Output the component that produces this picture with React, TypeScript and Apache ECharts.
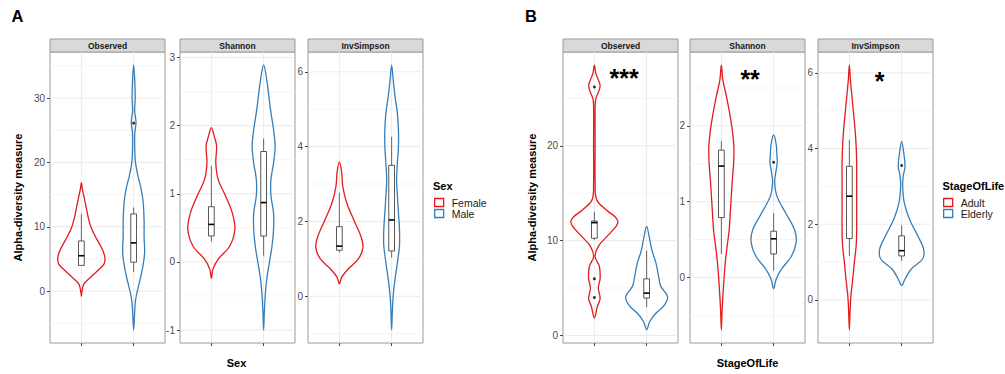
import React, { useEffect, useRef } from 'react';
import * as echarts from 'echarts';

// ---------------- DATA ----------------
const facetNames = ['Observed', 'Shannon', 'InvSimpson'];
const sexGroups = ['Female', 'Male'];
const stageGroups = ['Adult', 'Elderly'];
const groupPositions = [1, 2];

const yRangeA = [[-8.06, 37.16], [-1.19, 3.08], [-1.25, 6.53]];
const yRangeB = [[-0.8, 29.9], [-0.865, 2.975], [-1.14, 6.55]];
const yMajorA = [[0, 10, 20, 30], [-1, 0, 1, 2, 3], [0, 2, 4, 6]];
const yMinorA = [[-5, 5, 15, 25, 35], [-0.5, 0.5, 1.5, 2.5], [-1, 1, 3, 5]];
const yMajorB = [[0, 10, 20], [0, 1, 2], [0, 2, 4, 6]];
const yMinorB = [[5, 15, 25], [-0.5, 0.5, 1.5, 2.5], [-1, 1, 3, 5]];

// violin outlines: [value, half-width in category units]
const violinA_Observed_Female = [[16.86, 0], [15.8, 0.02], [14.3, 0.06], [12.7, 0.1], [11.15, 0.14], [9.6, 0.2], [8.0, 0.3], [6.5, 0.4], [5.2, 0.45], [4.15, 0.43], [3.1, 0.3], [2.1, 0.17], [1.04, 0.045], [-0.25, 0.008], [-0.78, 0]];
const violinA_Observed_Male = [[35.1, 0], [33, 0.02], [30, 0.03], [28, 0.02], [26.2, 0.045], [24.5, 0.022], [22, 0.022], [20, 0.035], [18, 0.08], [16, 0.14], [14, 0.18], [11, 0.2], [8.5, 0.2], [6, 0.21], [4, 0.18], [2, 0.13], [0, 0.07], [-1.5, 0.035], [-3.5, 0.018], [-6, 0]];
const violinA_Shannon_Female = [[1.97, 0], [1.83, 0.06], [1.7, 0.1], [1.45, 0.085], [1.21, 0.13], [0.97, 0.27], [0.72, 0.4], [0.48, 0.45], [0.23, 0.35], [0.04, 0.13], [-0.11, 0.03], [-0.24, 0]];
const violinA_Shannon_Male = [[2.89, 0], [2.67, 0.06], [2.43, 0.1], [2.19, 0.14], [1.94, 0.19], [1.7, 0.22], [1.45, 0.19], [1.21, 0.14], [0.97, 0.14], [0.72, 0.19], [0.48, 0.19], [0.23, 0.16], [-0.01, 0.11], [-0.25, 0.06], [-0.5, 0.03], [-0.74, 0.013], [-1.0, 0]];
const violinA_InvSimpson_Female = [[3.59, 0], [3.3, 0.045], [2.94, 0.065], [2.5, 0.14], [2.06, 0.27], [1.61, 0.41], [1.3, 0.45], [0.99, 0.36], [0.73, 0.17], [0.51, 0.045], [0.33, 0]];
const violinA_InvSimpson_Male = [[6.18, 0], [5.78, 0.03], [5.34, 0.065], [4.89, 0.11], [4.45, 0.13], [4.0, 0.13], [3.56, 0.11], [3.12, 0.095], [2.68, 0.11], [2.23, 0.13], [1.79, 0.15], [1.35, 0.15], [0.9, 0.11], [0.46, 0.065], [0.02, 0.03], [-0.43, 0.013], [-0.9, 0]];
const violinB_Observed_Adult = [[28.5, 0], [27.6, 0.03], [26.3, 0.11], [25.0, 0.03], [24.3, 0.015], [20, 0.015], [16, 0.015], [14.3, 0.045], [13.2, 0.235], [12.5, 0.4], [12.0, 0.45], [11.5, 0.415], [10.4, 0.235], [9.4, 0.075], [8.3, 0.015], [7.3, 0.095], [6.0, 0.11], [5.0, 0.075], [3.9, 0.11], [3.05, 0.057], [1.83, 0]];
const violinB_Observed_Elderly = [[11.5, 0], [10.4, 0.05], [9.0, 0.1], [7.6, 0.18], [6.2, 0.23], [5.2, 0.27], [4.1, 0.4], [3.2, 0.34], [2.36, 0.18], [1.47, 0.06], [0.6, 0]];
const violinB_Shannon_Adult = [[2.8, 0], [2.6, 0.03], [2.38, 0.1], [2.16, 0.16], [1.94, 0.21], [1.72, 0.24], [1.51, 0.235], [1.29, 0.21], [1.07, 0.19], [0.85, 0.17], [0.63, 0.15], [0.41, 0.11], [0.2, 0.075], [-0.02, 0.05], [-0.24, 0.03], [-0.46, 0.013], [-0.69, 0]];
const violinB_Shannon_Elderly = [[1.88, 0], [1.75, 0.05], [1.59, 0.065], [1.52, 0.07], [1.38, 0.04], [1.25, 0.02], [1.07, 0.065], [0.85, 0.23], [0.63, 0.4], [0.46, 0.43], [0.28, 0.34], [0.11, 0.15], [-0.02, 0.05], [-0.15, 0]];
const violinB_InvSimpson_Adult = [[6.2, 0], [5.81, 0.02], [5.37, 0.05], [4.93, 0.08], [4.49, 0.11], [4.06, 0.13], [3.62, 0.14], [3.18, 0.14], [2.74, 0.14], [2.3, 0.14], [1.87, 0.14], [1.43, 0.13], [0.99, 0.095], [0.55, 0.065], [0.11, 0.03], [-0.32, 0.013], [-0.79, 0]];
const violinB_InvSimpson_Elderly = [[4.19, 0], [3.88, 0.04], [3.53, 0.065], [3.27, 0.03], [3.0, 0.02], [2.57, 0.05], [2.13, 0.15], [1.69, 0.31], [1.34, 0.42], [1.08, 0.4], [0.81, 0.18], [0.55, 0.065], [0.38, 0]];

// box stats: [min, q1, median, q3, max] per group
const boxA_Observed = [[4.0, 4.0, 5.5, 7.8, 12.0], [3.0, 4.5, 7.5, 12.0, 13.0]];
const boxA_Shannon = [[0.3, 0.38, 0.55, 0.81, 1.41], [0.09, 0.38, 0.87, 1.62, 1.81]];
const boxA_InvSimpson = [[1.17, 1.23, 1.34, 1.86, 2.77], [1.04, 1.21, 2.04, 3.5, 4.26]];
const boxB_Observed = [[10.07, 10.25, 11.9, 12.07, 13.05], [2.99, 3.94, 4.46, 5.97, 8.95]];
const boxB_Shannon = [[0.31, 0.79, 1.47, 1.68, 1.8], [0.09, 0.31, 0.51, 0.61, 0.85]];
const boxB_InvSimpson = [[1.16, 1.62, 2.74, 3.53, 4.23], [1.03, 1.16, 1.3, 1.69, 1.97]];

// outliers: [group position, value]
const outliersA_Observed = [[2, 26.1]];
const outliersA_Shannon: number[][] = [];
const outliersA_InvSimpson: number[][] = [];
const outliersB_Observed = [[1, 26.2], [1, 5.97], [1, 4.0]];
const outliersB_Shannon = [[2, 1.52]];
const outliersB_InvSimpson = [[2, 3.55]];

// significance stars (panel B): label, x, y
const starLabels = ['***', '**', '*'];
const starX = [1.57, 1.55, 1.58];
const starY = [27.65, 2.68, 5.91];

// ---------------- STYLE / LAYOUT ----------------
const RED = '#E41A1C';
const BLUE = '#377EB8';
const FONT = '"Liberation Sans", Arial, Helvetica, sans-serif';
const GRID_LEFTS = [50, 180, 308, 563, 690, 818];
const GRID_W = 115;
const GRID_TOP = 52;
const GRID_H = 291;
const STRIP_H = 13;

export default function App() {
  const ref = useRef<HTMLDivElement>(null);

  useEffect(() => {
    document.body.style.margin = '0';
    if (!ref.current) return;
    const chart = echarts.init(ref.current, undefined, { renderer: 'svg' });

    const panels = [
      {
        groups: sexGroups,
        ranges: yRangeA, majors: yMajorA, minors: yMinorA,
        violins: [
          [violinA_Observed_Female, violinA_Observed_Male],
          [violinA_Shannon_Female, violinA_Shannon_Male],
          [violinA_InvSimpson_Female, violinA_InvSimpson_Male],
        ],
        boxes: [boxA_Observed, boxA_Shannon, boxA_InvSimpson],
        outliers: [outliersA_Observed, outliersA_Shannon, outliersA_InvSimpson],
        stars: false,
      },
      {
        groups: stageGroups,
        ranges: yRangeB, majors: yMajorB, minors: yMinorB,
        violins: [
          [violinB_Observed_Adult, violinB_Observed_Elderly],
          [violinB_Shannon_Adult, violinB_Shannon_Elderly],
          [violinB_InvSimpson_Adult, violinB_InvSimpson_Elderly],
        ],
        boxes: [boxB_Observed, boxB_Shannon, boxB_InvSimpson],
        outliers: [outliersB_Observed, outliersB_Shannon, outliersB_InvSimpson],
        stars: true,
      },
    ];

    const grids: any[] = [];
    const xAxes: any[] = [];
    const yAxes: any[] = [];
    const series: any[] = [];
    const graphics: any[] = [];
    const colors = [RED, BLUE];

    panels.forEach((p, pi) => {
      facetNames.forEach((fname, fi) => {
        const gi = pi * 3 + fi;
        const left = GRID_LEFTS[gi];
        grids.push({
          left, top: GRID_TOP, width: GRID_W, height: GRID_H,
          show: true, backgroundColor: '#fff', borderColor: '#9a9a9a', borderWidth: 1,
        });
        xAxes.push({
          type: 'value', gridIndex: gi, min: 0.4, max: 2.6,
          axisLine: { show: false, onZero: false },
          axisLabel: { show: false, customValues: groupPositions },
          axisTick: { show: true, customValues: groupPositions, length: 3, lineStyle: { color: '#444', width: 1 } },
          splitLine: { show: false },
        });
        yAxes.push({
          type: 'value', gridIndex: gi, min: p.ranges[fi][0], max: p.ranges[fi][1],
          axisLine: { show: false, onZero: false },
          axisLabel: { show: true, customValues: p.majors[fi], fontSize: 10, color: '#4D4D4D', fontFamily: FONT, margin: 5 },
          axisTick: { show: true, customValues: p.majors[fi], length: 3, lineStyle: { color: '#444', width: 1 } },
          splitLine: { show: false },
        });

        // grid lines
        const gridData = [
          ...p.minors[fi].map((v) => [v, 1]),
          ...p.majors[fi].map((v) => [v, 0]),
          ...groupPositions.map((v) => [v, 2]),
        ];
        series.push({
          type: 'custom', xAxisIndex: gi, yAxisIndex: gi, silent: true, z: 1,
          data: gridData,
          renderItem: (params: any, api: any) => {
            const cs = params.coordSys;
            const v = api.value(0);
            const kind = api.value(1);
            if (kind === 2) {
              const px = api.coord([v, p.ranges[fi][0]])[0];
              return { type: 'line', shape: { x1: px, y1: cs.y, x2: px, y2: cs.y + cs.height }, style: { stroke: '#EBEBEB', lineWidth: 1 } };
            }
            const py = api.coord([1, v])[1];
            return {
              type: 'line', shape: { x1: cs.x, y1: py, x2: cs.x + cs.width, y2: py },
              style: { stroke: kind === 0 ? '#EBEBEB' : '#F2F2F2', lineWidth: kind === 0 ? 1 : 0.8 },
            };
          },
        });

        // violins
        p.violins[fi].forEach((outline, k) => {
          const xPos = groupPositions[k];
          series.push({
            type: 'custom', name: p.groups[k], xAxisIndex: gi, yAxisIndex: gi, silent: true, z: 3,
            itemStyle: { color: colors[k] },
            data: [[xPos, outline[0][0]]],
            renderItem: (params: any, api: any) => {
              const right = outline.map(([v, hw]) => api.coord([xPos + hw, v]));
              const leftSide = outline.slice(1, -1).reverse().map(([v, hw]) => api.coord([xPos - hw, v]));
              return {
                type: 'polygon',
                shape: { points: right.concat(leftSide), smooth: 0.35 },
                style: { fill: 'none', stroke: colors[k], lineWidth: 1.3 },
              };
            },
          });
        });

        // boxplots
        series.push({
          type: 'custom', xAxisIndex: gi, yAxisIndex: gi, silent: true, z: 4,
          dimensions: ['x', 'min', 'q1', 'median', 'q3', 'max'],
          encode: { x: 0, y: [1, 2, 3, 4, 5] },
          data: p.boxes[fi].map((b, k) => [groupPositions[k], ...b]),
          renderItem: (params: any, api: any) => {
            const x = api.value(0);
            const mn = api.value(1), q1 = api.value(2), md = api.value(3), q3 = api.value(4), mx = api.value(5);
            const hw = 0.055;
            const cx = api.coord([x, mn])[0];
            const yMin = api.coord([x, mn])[1];
            const yQ1 = api.coord([x, q1])[1];
            const yMd = api.coord([x, md])[1];
            const yQ3 = api.coord([x, q3])[1];
            const yMax = api.coord([x, mx])[1];
            const xl = api.coord([x - hw, md])[0];
            const xr = api.coord([x + hw, md])[0];
            const lineStyle = { stroke: '#555', lineWidth: 0.9 };
            return {
              type: 'group',
              children: [
                { type: 'line', shape: { x1: cx, y1: yQ3, x2: cx, y2: yMax }, style: lineStyle },
                { type: 'line', shape: { x1: cx, y1: yQ1, x2: cx, y2: yMin }, style: lineStyle },
                { type: 'rect', shape: { x: xl, y: yQ3, width: xr - xl, height: yQ1 - yQ3 }, style: { fill: '#fff', stroke: '#444', lineWidth: 0.9 } },
                { type: 'line', shape: { x1: xl, y1: yMd, x2: xr, y2: yMd }, style: { stroke: '#000', lineWidth: 1.6 } },
              ],
            };
          },
        });

        // outliers
        if (p.outliers[fi].length) {
          series.push({
            type: 'scatter', xAxisIndex: gi, yAxisIndex: gi, silent: true, z: 5,
            symbol: 'circle', symbolSize: 3, itemStyle: { color: '#000' },
            data: p.outliers[fi],
          });
        }

        // stars
        if (p.stars) {
          series.push({
            type: 'custom', xAxisIndex: gi, yAxisIndex: gi, silent: true, z: 6,
            data: [[starX[fi], starY[fi]]],
            renderItem: (params: any, api: any) => {
              const pt = api.coord([api.value(0), api.value(1)]);
              return {
                type: 'text',
                x: pt[0], y: pt[1] + 4.5,
                style: {
                  text: starLabels[fi], fill: '#000',
                  font: `bold 25px ${FONT}`,
                  textAlign: 'center', textVerticalAlign: 'middle',
                  align: 'center', verticalAlign: 'middle',
                },
              };
            },
          });
        }

        // strip
        graphics.push({
          type: 'rect', shape: { x: left, y: GRID_TOP - STRIP_H, width: GRID_W, height: STRIP_H },
          style: { fill: '#D9D9D9', stroke: '#9a9a9a', lineWidth: 1 },
        });
        graphics.push({
          type: 'text', x: left + GRID_W / 2, y: GRID_TOP - STRIP_H / 2,
          style: { text: fname, font: `bold 8.5px ${FONT}`, fill: '#1A1A1A', textAlign: 'center', textVerticalAlign: 'middle' },
        });
      });
    });

    // panel labels, axis titles, legend titles
    const addText = (text: string, x: number, y: number, size: number, opts: any = {}) => {
      graphics.push({
        type: 'text', x, y, rotation: opts.rotation || 0,
        style: {
          text, font: `bold ${size}px ${FONT}`, fill: opts.fill || '#000',
          textAlign: opts.align || 'center', textVerticalAlign: 'middle',
        },
      });
    };
    addText('A', 17.5, 16, 16.5);
    addText('B', 531, 15.5, 16.5);
    addText('Alpha-diversity measure', 17.5, 197.5, 11, { rotation: Math.PI / 2 });
    addText('Alpha-diversity measure', 532, 197.5, 11, { rotation: Math.PI / 2 });
    addText('Sex', 236.5, 362.5, 11);
    addText('StageOfLife', 747.5, 362.5, 11);
    addText('Sex', 433, 185.5, 11, { align: 'left' });
    addText('StageOfLife', 942.5, 185.5, 11, { align: 'left' });

    const legendBase = {
      orient: 'vertical', itemWidth: 9, itemHeight: 8, itemGap: 0, padding: 0,
      selectedMode: false,
      textStyle: { fontSize: 10.5, color: '#1A1A1A', fontFamily: FONT, lineHeight: 10, padding: [0, 0, 0, 3] },
    };

    chart.setOption({
      animation: false,
      grid: grids,
      xAxis: xAxes,
      yAxis: yAxes,
      series,
      graphic: { elements: graphics },
      legend: [
        {
          ...legendBase, left: 434, top: 197,
          data: sexGroups.map((n, i) => ({ name: n, icon: 'rect', itemStyle: { color: '#fff', borderColor: colors[i], borderWidth: 1.3 } })),
        },
        {
          ...legendBase, left: 943, top: 197,
          data: stageGroups.map((n, i) => ({ name: n, icon: 'rect', itemStyle: { color: '#fff', borderColor: colors[i], borderWidth: 1.3 } })),
        },
      ],
    });

    return () => chart.dispose();
  }, []);

  return <div ref={ref} style={{ width: 1005, height: 374 }} />;
}
